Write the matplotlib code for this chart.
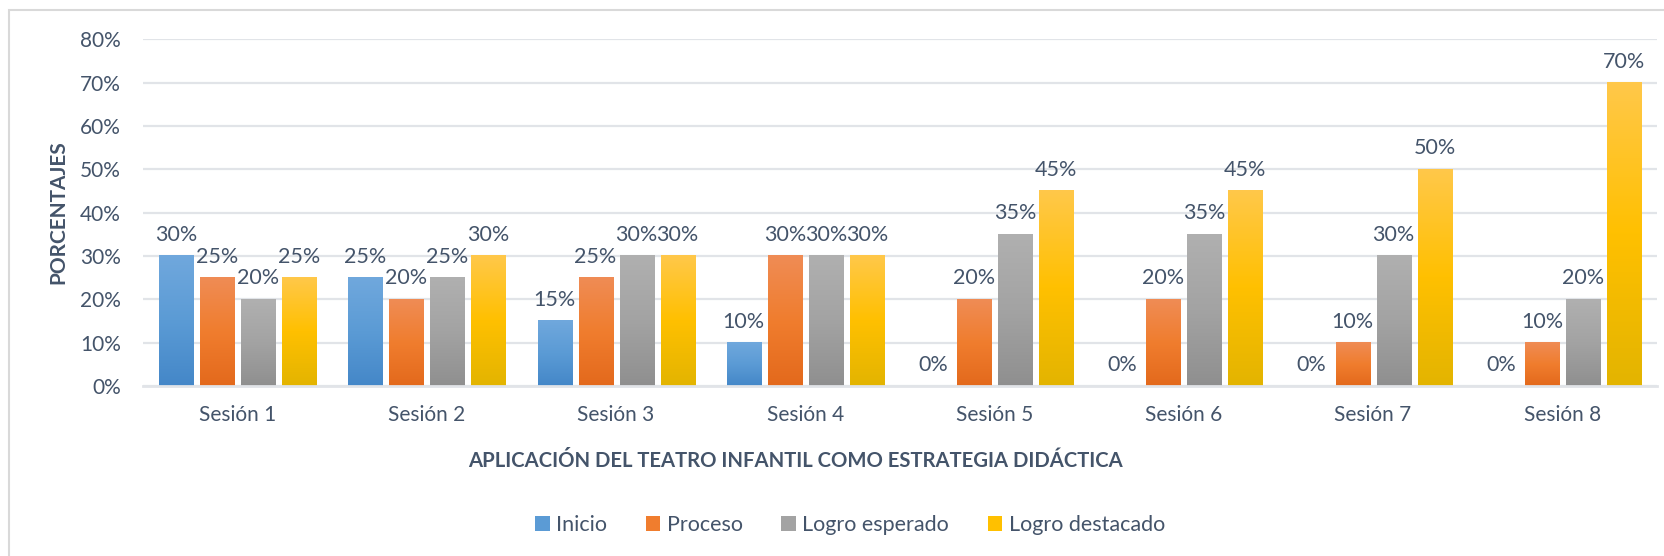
import matplotlib.pyplot as plt
import numpy as np
from matplotlib.colors import LinearSegmentedColormap
from matplotlib.patches import Patch, Rectangle

plt.rcParams['font.family'] = ['Lato', 'DejaVu Sans']

sesiones = ['Sesión 1', 'Sesión 2', 'Sesión 3', 'Sesión 4',
            'Sesión 5', 'Sesión 6', 'Sesión 7', 'Sesión 8']
inicio = [30, 25, 15, 10, 0, 0, 0, 0]
proceso = [25, 20, 25, 30, 20, 20, 10, 10]
logro_esperado = [20, 25, 30, 30, 35, 35, 30, 20]
logro_destacado = [25, 30, 30, 30, 45, 45, 50, 70]
series_names = ['Inicio', 'Proceso', 'Logro esperado', 'Logro destacado']
y_ticks = [0, 10, 20, 30, 40, 50, 60, 70, 80]

# (bottom, middle, top) gradient colours per series
grads = [('#4487C8', '#5B9BD5', '#70A8DD'),
         ('#E3691C', '#F07D2E', '#EF8C55'),
         ('#8F8F8F', '#A3A3A3', '#B0B0B0'),
         ('#E3B400', '#FFC000', '#FFC84A')]
txt = '#44546A'
grid_c = '#E1E4E8'

fig = plt.figure(figsize=(16.65, 5.56), dpi=100)
ax = fig.add_axes([143/1665, 1-386/556, (1657-143)/1665, (386-39.3)/556])

x = np.arange(len(sesiones))
step = 0.2167
width = 0.18
data = [inicio, proceso, logro_esperado, logro_destacado]
grad = np.linspace(0, 1, 256).reshape(-1, 1)

for k, vals in enumerate(data):
    pos = x + (k - 1.5) * step
    bars = ax.bar(pos, vals, width, color=grads[k][1], zorder=2)
    cmap = LinearSegmentedColormap.from_list('g%d' % k, grads[k])
    for b, v in zip(bars, vals):
        if v > 0:
            ax.imshow(grad, cmap=cmap, origin='lower', aspect='auto',
                      extent=[b.get_x(), b.get_x() + b.get_width(), 0, v],
                      zorder=3)
        ax.annotate('%d%%' % v, (b.get_x() + b.get_width() / 2, v),
                    xytext=(0, 8), textcoords='offset points',
                    ha='center', va='bottom', fontsize=15.5, color=txt)

ax.set_xlim(-0.5, len(sesiones) - 0.5)
ax.set_ylim(0, 80)
ax.set_yticks(y_ticks)
ax.set_yticklabels(['%d%%' % t for t in y_ticks])
ax.set_xticks(x)
ax.set_xticklabels(sesiones)
ax.tick_params(axis='both', length=0, labelsize=15, labelcolor=txt)
ax.tick_params(axis='y', pad=16)
ax.tick_params(axis='x', pad=14)
ax.grid(axis='y', color=grid_c, linewidth=1.6, zorder=0)
ax.set_axisbelow(True)
for s in ['top', 'right', 'left']:
    ax.spines[s].set_visible(False)
ax.spines['bottom'].set_color(grid_c)
ax.spines['bottom'].set_linewidth(2)
ax.spines['bottom'].set_zorder(4)

fig.text(58/1665, 1-212/556, 'PORCENTAJES', rotation=90, ha='center',
         va='center', fontsize=15, fontweight='bold', color=txt)
fig.text(795/1665, 1-461/556, 'APLICACIÓN DEL TEATRO INFANTIL COMO ESTRATEGIA DIDÁCTICA',
         ha='center', va='center', fontsize=14.6, fontweight='bold', color=txt)

handles = [Patch(facecolor=g[1], edgecolor='none') for g in grads]
fig.legend(handles, series_names, loc='center', ncol=4, frameon=False,
           bbox_to_anchor=(850/1665, 1-525/556), fontsize=15.5,
           labelcolor=txt, handlelength=0.67, handleheight=0.67,
           handletextpad=0.3, columnspacing=1.8)

fig.patches.append(Rectangle((9/1665, -0.1), 1.2, 1-10/556+0.1,
                             transform=fig.transFigure, fill=False,
                             edgecolor='#D9D9D9', linewidth=1.5))

fig.savefig('out.png', dpi=100)
